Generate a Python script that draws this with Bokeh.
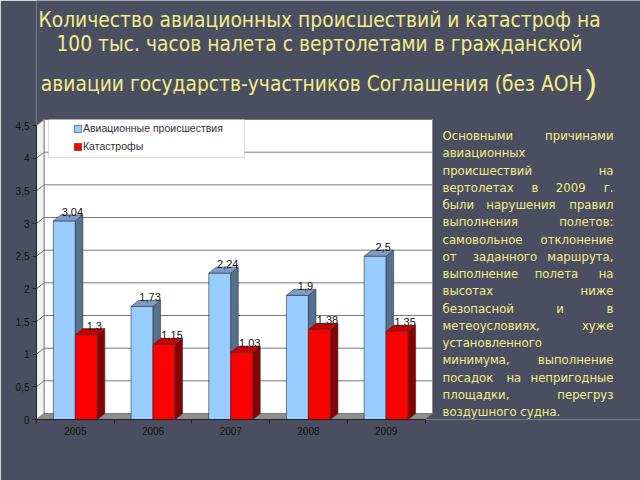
from bokeh.plotting import figure
from bokeh.models import (Range1d, FixedTicker, CustomJSTickFormatter, Legend,
                          LegendItem, BoxAnnotation)
from bokeh.embed import file_html
from bokeh.resources import INLINE
from bokeh.core.properties import value

# ---------------- data ----------------
years = ["2005", "2006", "2007", "2008", "2009"]
incidents = [3.04, 1.73, 2.24, 1.90, 2.50]
catastrophes = [1.30, 1.15, 1.03, 1.38, 1.35]
series_names = ["Авиационные происшествия", "Катастрофы"]
y_ticks = [0, 0.5, 1, 1.5, 2, 2.5, 3, 3.5, 4, 4.5]

title_lines = ["Количество авиационных происшествий и катастроф на",
               "100 тыс. часов налета с вертолетами в гражданской",
               "авиации государств-участников Соглашения (без АОН"]
title_paren = ")"
para_lines = ["Основными причинами", "авиационных", "происшествий на",
              "вертолетах в 2009 г.", "были нарушения правил",
              "выполнения полетов:", "самовольное отклонение",
              "от заданного маршрута,", "выполнение полета на",
              "высотах ниже", "безопасной и в", "метеоусловиях, хуже",
              "установленного", "минимума, выполнение",
              "посадок на непригодные", "площадки, перегруз",
              "воздушного судна."]

# ---------------- layout / style ----------------
BG = "#4b4e60"
TXT = "#eeee8a"
TFONT = "DejaVu Sans Condensed"
W, H = 640, 480
FL, FB = 36, 419          # left edge and zero line of the plot (page px)
PX_X, PX_Y = 77.7, 65.33  # px per category / per unit
NCAT = len(years)
YMAX = 4.5
DX, DY = 7.5 / PX_X, 6 / PX_Y
BAR_W = 0.283


def dx(px):
    return (px - FL) / PX_X


def dy(py):
    return (FB - py) / PX_Y


p = figure(width=W, height=H, output_backend="svg", toolbar_location=None,
           x_range=Range1d(0, dx(W)), y_range=Range1d(0, dy(0)),
           min_border_left=FL, min_border_right=0, min_border_top=0,
           min_border_bottom=H - FB, background_fill_color=BG, border_fill_color=BG,
           outline_line_color=None, title=None)
p.grid.visible = False

# walls and floor
p.patch([DX, NCAT + DX, NCAT + DX, DX], [DY, DY, YMAX + DY, YMAX + DY],
        fill_color="white", line_color="#8a8a8a", line_width=1)
p.patch([0, DX, DX, 0], [0, DY, YMAX + DY, YMAX], fill_color="#f2f2f2",
        line_color="#8a8a8a", line_width=1)
gx = [[0, DX, NCAT + DX] for t in y_ticks if t > 0]
gy = [[t, t + DY, t + DY] for t in y_ticks if t > 0]
p.multi_line(gx, gy, line_color="#7a7a7a", line_width=1)
p.patch([0, NCAT, NCAT + DX, DX], [0, 0, DY, DY], fill_color="#8e8e8e",
        line_color="#6e6e6e", line_width=0.5)

# bars
series = [(incidents, -BAR_W, "#99ccff", "#56708f", "#7b9cc6"),
          (catastrophes, 0.0, "#ff0000", "#8a0000", "#c80000")]
fronts = []
for vals, off, cf, cs, ct in series:
    lefts = [i + 0.5 + off for i in range(NCAT)]
    rights = [l + BAR_W for l in lefts]
    r = p.quad(left=lefts, right=rights, bottom=[0] * NCAT, top=vals,
               fill_color=cf, line_color="#333333", line_width=0.6)
    fronts.append(r)
    side_x = [[rr, rr + DX, rr + DX, rr] for rr in rights]
    side_y = [[0, DY, v + DY, v] for v in vals]
    p.patches(side_x, side_y, fill_color=cs, line_color="#333333", line_width=0.6)
    top_x = [[l, l + DX, rr + DX, rr] for l, rr in zip(lefts, rights)]
    top_y = [[v, v + DY, v + DY, v] for v in vals]
    p.patches(top_x, top_y, fill_color=ct, line_color="#333333", line_width=0.6)
    labels = [("%g" % v).replace(".", ",") for v in vals]
    centers = [(l + rr) / 2 for l, rr in zip(lefts, rights)]
    p.text(x=centers, y=vals, text=labels, text_align="center", text_baseline="bottom",
           x_offset=8, y_offset=-5, text_font=value("Liberation Sans"),
           text_font_size="11px", text_color="#111111")

# axes
p.yaxis.ticker = FixedTicker(ticks=y_ticks)
p.yaxis.formatter = CustomJSTickFormatter(code="return tick.toString().replace('.', ',')")
p.yaxis.bounds = (0, YMAX)
p.xaxis.ticker = FixedTicker(ticks=[i + 0.5 for i in range(NCAT)],
                             minor_ticks=list(range(NCAT + 1)))
p.xaxis.formatter = CustomJSTickFormatter(args=dict(years=years),
                                          code="return years[Math.floor(tick)]")
p.xaxis.bounds = (0, NCAT)
p.xaxis.major_tick_out = 0
p.xaxis.major_tick_in = 0
p.xaxis.minor_tick_out = 4
p.xaxis.minor_tick_in = 0
p.yaxis.major_tick_out = 4
p.yaxis.major_tick_in = 0
for ax in (p.xaxis, p.yaxis):
    ax.axis_line_color = "#222222"
    ax.major_tick_line_color = "#222222"
    ax.minor_tick_line_color = "#222222"
    ax.major_label_text_font = "Liberation Sans"
    ax.major_label_text_font_size = "10px"
    ax.major_label_text_color = "#111111"
    ax.major_label_standoff = 3
p.yaxis.minor_tick_line_color = None

# legend
box = BoxAnnotation(left=dx(48), right=dx(244), top=dy(119), bottom=dy(157),
                    fill_color="white", fill_alpha=1, line_color="#8a8a8a",
                    line_width=1)
p.add_layout(box)
legend = Legend(items=[LegendItem(label=series_names[0], renderers=[fronts[0]]),
                       LegendItem(label=series_names[1], renderers=[fronts[1]])],
                location=(73 - FL, FB - 152), padding=0, margin=0, spacing=6,
                glyph_width=9, glyph_height=9, label_height=9, label_standoff=1,
                label_text_font="Liberation Sans", label_text_font_size="10.5px",
                label_text_color="#333333", border_line_color=None,
                background_fill_alpha=0)
p.add_layout(legend)

# ---------------- title ----------------
p.text(x=[dx(319), dx(319)], y=[dy(19), dy(43)], text=title_lines[:2],
       text_align="center", text_baseline="alphabetic", text_font=value(TFONT),
       text_font_size="20.8px", text_color=TXT)
p.text(x=[dx(582)], y=[dy(83)], text=[title_lines[2]], text_align="right",
       text_baseline="alphabetic", text_font=value(TFONT), text_font_size="20.8px",
       text_color=TXT)
p.text(x=[dx(585)], y=[dy(80)], text=[title_paren], text_align="left",
       text_baseline="alphabetic", text_font=value("Liberation Sans"),
       text_font_size="34px", text_color=TXT)

# ---------------- justified paragraph ----------------
PL, PR = 442, 613
CW = 7.1


def est(word):
    return sum(3.5 if c in ",.:" else CW for c in word)


tx, ty, tt, ta = [], [], [], []
for k, line in enumerate(para_lines):
    yc = 135 + k * 17.25
    words = line.split(" ")
    if len(words) == 1 or k == len(para_lines) - 1:
        placed = [(PL, line, "left")]
    else:
        ws = [est(w) for w in words]
        gap = (PR - PL - sum(ws)) / (len(words) - 1)
        placed = []
        xpos = PL
        for j, (w, ww) in enumerate(zip(words, ws)):
            if j == 0:
                placed.append((PL, w, "left"))
            elif j == len(words) - 1:
                placed.append((PR, w, "right"))
            else:
                placed.append((xpos + ww / 2, w, "center"))
            xpos += ww + gap
    for xx, w, al in placed:
        tx.append(dx(xx))
        ty.append(dy(yc))
        tt.append(w)
        ta.append(al)
p.text(x=tx, y=ty, text=tt, text_align=ta, text_baseline="middle",
       text_font=value(TFONT), text_font_size="13px", text_color=TXT)

open("out.html", "w").write(file_html(p, INLINE))
